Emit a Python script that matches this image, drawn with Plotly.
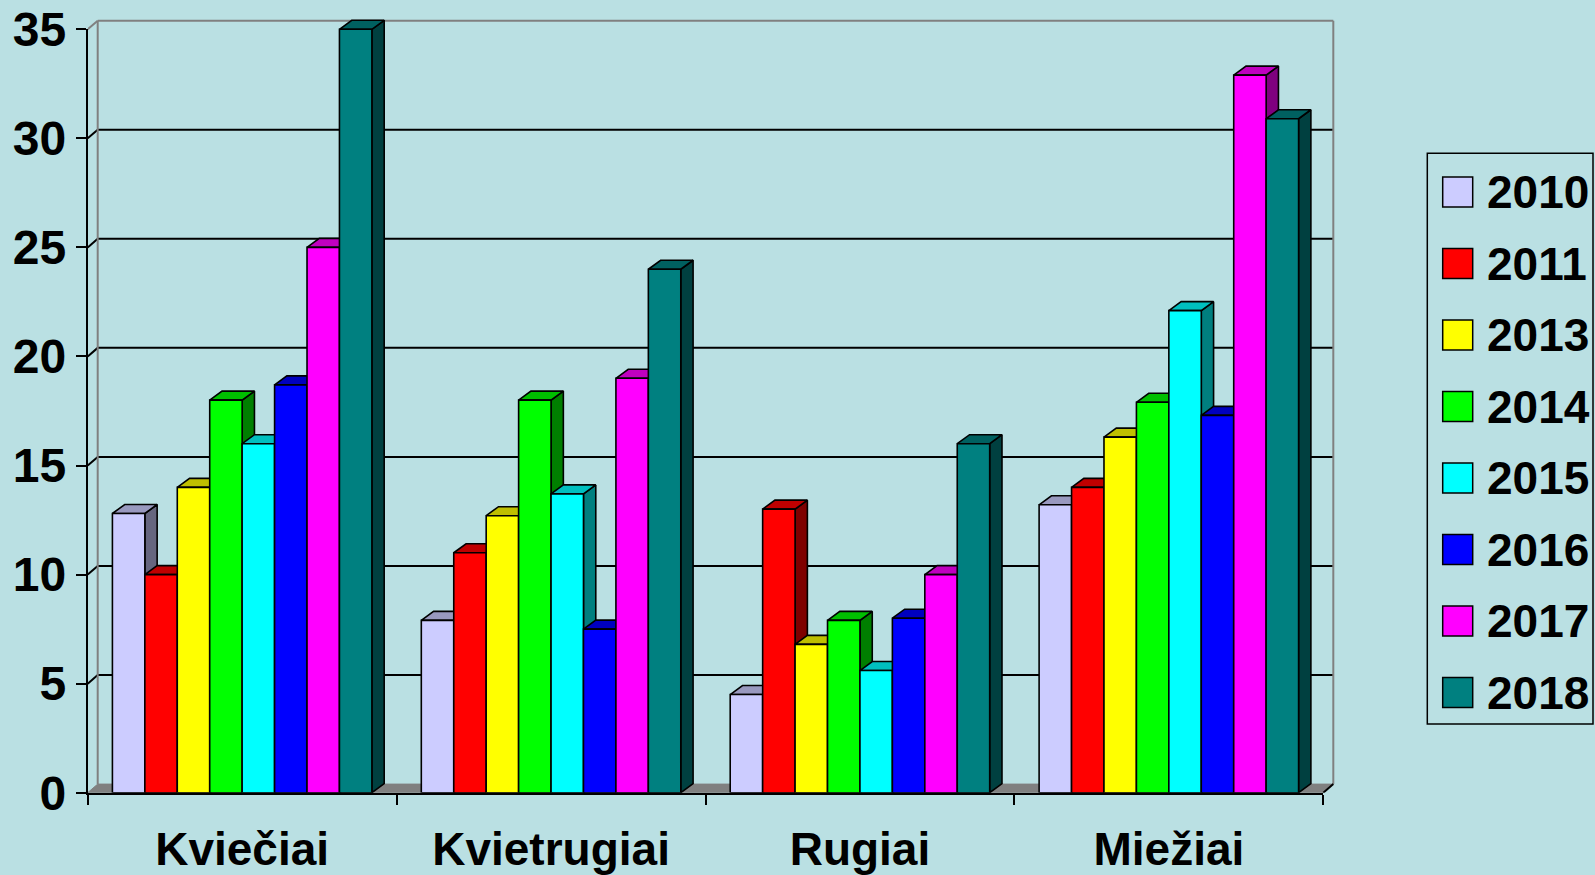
import plotly.graph_objects as go

# ---------------- data ----------------
categories = ["Kviečiai", "Kvietrugiai", "Rugiai", "Miežiai"]
years = ["2010", "2011", "2013", "2014", "2015", "2016", "2017", "2018"]
values_2010 = [12.8, 7.9, 4.5, 13.2]
values_2011 = [10.0, 11.0, 13.0, 14.0]
values_2013 = [14.0, 12.7, 6.8, 16.3]
values_2014 = [18.0, 18.0, 7.9, 17.9]
values_2015 = [16.0, 13.7, 5.6, 22.1]
values_2016 = [18.7, 7.5, 8.0, 17.3]
values_2017 = [25.0, 19.0, 10.0, 32.9]
values_2018 = [35.0, 24.0, 16.0, 30.9]
y_tick_values = [0, 5, 10, 15, 20, 25, 30, 35]

series_values = [values_2010, values_2011, values_2013, values_2014,
                 values_2015, values_2016, values_2017, values_2018]

# ---------------- styles ----------------
front_colors = ["#CCCCFF", "#FF0000", "#FFFF00", "#00FF00",
                "#00FFFF", "#0000FF", "#FF00FF", "#008080"]
BG = "#BAE0E3"
FONT = dict(family="Liberation Sans, Arial, sans-serif", size=46, color="black", weight="bold")
YFONT = dict(FONT, size=48)


def shade(hex_color, f):
    h = hex_color.lstrip("#")
    r, g, b = (int(h[i:i + 2], 16) for i in (0, 2, 4))
    return "rgb({},{},{})".format(int(r * f), int(g * f), int(b * f))


# ---------------- geometry (pixels) ----------------
W, H = 1595, 875
AX_LEFT, AX_RIGHT = 87.7, 1323.3
AX_BOTTOM, AX_TOP = 792.7, 29.3
Y_MAX = 35
px_per_x = (AX_RIGHT - AX_LEFT) / len(categories)
px_per_y = (AX_BOTTOM - AX_TOP) / Y_MAX

BAR_DX = 12.3 / px_per_x
BAR_DY = 9.0 / px_per_y
WALL_DX = 10.0 / px_per_x
WALL_DY = 8.6 / px_per_y
GROUP = 0.84
bw = GROUP / len(years)

EXT_RIGHT, EXT_TOP = 1345.0, 5.0
x_lo = -0.5
x_hi = -0.5 + (EXT_RIGHT - AX_LEFT) / px_per_x
y_hi = (AX_BOTTOM - EXT_TOP) / px_per_y
x_front_hi = len(categories) - 0.5

fig = go.Figure()

# ---------------- 3D bars ----------------
for j, (year, vals) in enumerate(zip(years, series_values)):
    fx, fy, sx, sy, tx, ty = [], [], [], [], [], []
    for i, v in enumerate(vals):
        xl = i - GROUP / 2 + j * bw
        xr = xl + bw
        fx += [xl, xr, xr, xl, xl, None]
        fy += [0, 0, v, v, 0, None]
        sx += [xr, xr + BAR_DX, xr + BAR_DX, xr, xr, None]
        sy += [0, BAR_DY, v + BAR_DY, v, 0, None]
        tx += [xl, xr, xr + BAR_DX, xl + BAR_DX, xl, None]
        ty += [v, v, v + BAR_DY, v + BAR_DY, v, None]
    c = front_colors[j]
    for xs, ys, col in ((sx, sy, shade(c, 0.5)), (tx, ty, shade(c, 0.75)), (fx, fy, c)):
        fig.add_trace(go.Scatter(
            x=xs, y=ys, mode="lines", fill="toself", fillcolor=col,
            line=dict(color="black", width=1.6), hoverinfo="skip",
            showlegend=False, xaxis="x", yaxis="y"))

# empty trace that makes the front (labelled) axes render
fig.add_trace(go.Scatter(x=[None], y=[None], mode="lines", showlegend=False,
                         hoverinfo="skip", xaxis="x2", yaxis="y2"))

# ---------------- walls, floor, gridlines ----------------
shapes = []
GREY = "#808080"
floor_path = "M {},{} L {},{} L {},{} L {},{} Z".format(
    x_lo, 0, x_front_hi, 0, x_front_hi + WALL_DX, WALL_DY, x_lo + WALL_DX, WALL_DY)
shapes.append(dict(type="path", path=floor_path, xref="x", yref="y", layer="below",
                   fillcolor=GREY, line=dict(color=GREY, width=1)))
for t in y_tick_values[1:]:
    col = GREY if t == Y_MAX else "black"
    shapes.append(dict(type="line", xref="x", yref="y", layer="below",
                       x0=x_lo + WALL_DX, x1=x_front_hi + WALL_DX, y0=t + WALL_DY, y1=t + WALL_DY,
                       line=dict(color=col, width=2)))
    shapes.append(dict(type="line", xref="x", yref="y", layer="below",
                       x0=x_lo, x1=x_lo + WALL_DX, y0=t, y1=t + WALL_DY,
                       line=dict(color=col, width=2)))
for xv in (x_lo + WALL_DX, x_front_hi + WALL_DX):
    shapes.append(dict(type="line", xref="x", yref="y", layer="below",
                       x0=xv, x1=xv, y0=WALL_DY, y1=Y_MAX + WALL_DY,
                       line=dict(color=GREY, width=2)))
shapes.append(dict(type="line", xref="x", yref="y", layer="below",
                   x0=x_front_hi, x1=x_front_hi + WALL_DX, y0=0, y1=WALL_DY,
                   line=dict(color="black", width=2)))

# ---------------- legend (drawn) ----------------
LEG_X0, LEG_X1, LEG_Y0, LEG_Y1 = 1427.3, 1593.0, 153.3, 724.0
SW_X0, SW_X1, SW = 1442.7, 1472.7, 30.0
LEG_FIRST, LEG_STEP = 192.0, 71.5
TXT_X = 1486.0
shapes.append(dict(type="rect", xref="paper", yref="paper",
                   x0=LEG_X0 / W, x1=LEG_X1 / W, y0=1 - LEG_Y1 / H, y1=1 - LEG_Y0 / H,
                   line=dict(color="black", width=1.5), fillcolor="rgba(0,0,0,0)"))
annotations = []
for k, year in enumerate(years):
    cy = LEG_FIRST + k * LEG_STEP
    shapes.append(dict(type="rect", xref="paper", yref="paper",
                       x0=SW_X0 / W, x1=SW_X1 / W,
                       y0=1 - (cy + SW / 2) / H, y1=1 - (cy - SW / 2) / H,
                       fillcolor=front_colors[k], line=dict(color="black", width=1.5)))
    annotations.append(dict(text=year, xref="paper", yref="paper", x=TXT_X / W, y=1 - cy / H,
                            xanchor="left", yanchor="middle", showarrow=False, font=FONT,
                            borderpad=0))

fig.update_layout(
    width=W, height=H,
    margin=dict(l=0, r=0, t=0, b=0, autoexpand=False),
    paper_bgcolor=BG, plot_bgcolor="rgba(0,0,0,0)",
    showlegend=False,
    shapes=shapes, annotations=annotations,
    xaxis=dict(domain=[AX_LEFT / W, EXT_RIGHT / W], range=[x_lo, x_hi], visible=False,
               anchor="y", fixedrange=True, automargin=False),
    yaxis=dict(domain=[(H - AX_BOTTOM) / H, (H - EXT_TOP) / H], range=[0, y_hi], visible=False,
               anchor="x", fixedrange=True, automargin=False),
    xaxis2=dict(domain=[AX_LEFT / W, AX_RIGHT / W], range=[x_lo, x_front_hi], anchor="y2",
                showline=True, linecolor="black", linewidth=2, showgrid=False, zeroline=False,
                tickmode="array", tickvals=list(range(len(categories))), ticktext=categories,
                ticks="", tickfont=FONT, ticklabelstandoff=15, fixedrange=True,
                automargin=False,
                minor=dict(ticks="outside", ticklen=10, tickwidth=2, tickcolor="black",
                           tickmode="array", showgrid=False,
                           tickvals=[i - 0.5 for i in range(len(categories) + 1)])),
    yaxis2=dict(domain=[(H - AX_BOTTOM) / H, (H - AX_TOP) / H], range=[0, Y_MAX], anchor="x2",
                showline=True, linecolor="black", linewidth=2, showgrid=False, zeroline=False,
                tickmode="array", tickvals=y_tick_values, ticks="outside", ticklen=10,
                tickwidth=2, tickcolor="black", tickfont=YFONT, ticklabelstandoff=0,
                fixedrange=True, automargin=False),
)

fig.write_html("out.html", config={"displayModeBar": False},
               post_script="document.body.style.margin='0';"
                           "document.body.style.overflow='hidden';")
